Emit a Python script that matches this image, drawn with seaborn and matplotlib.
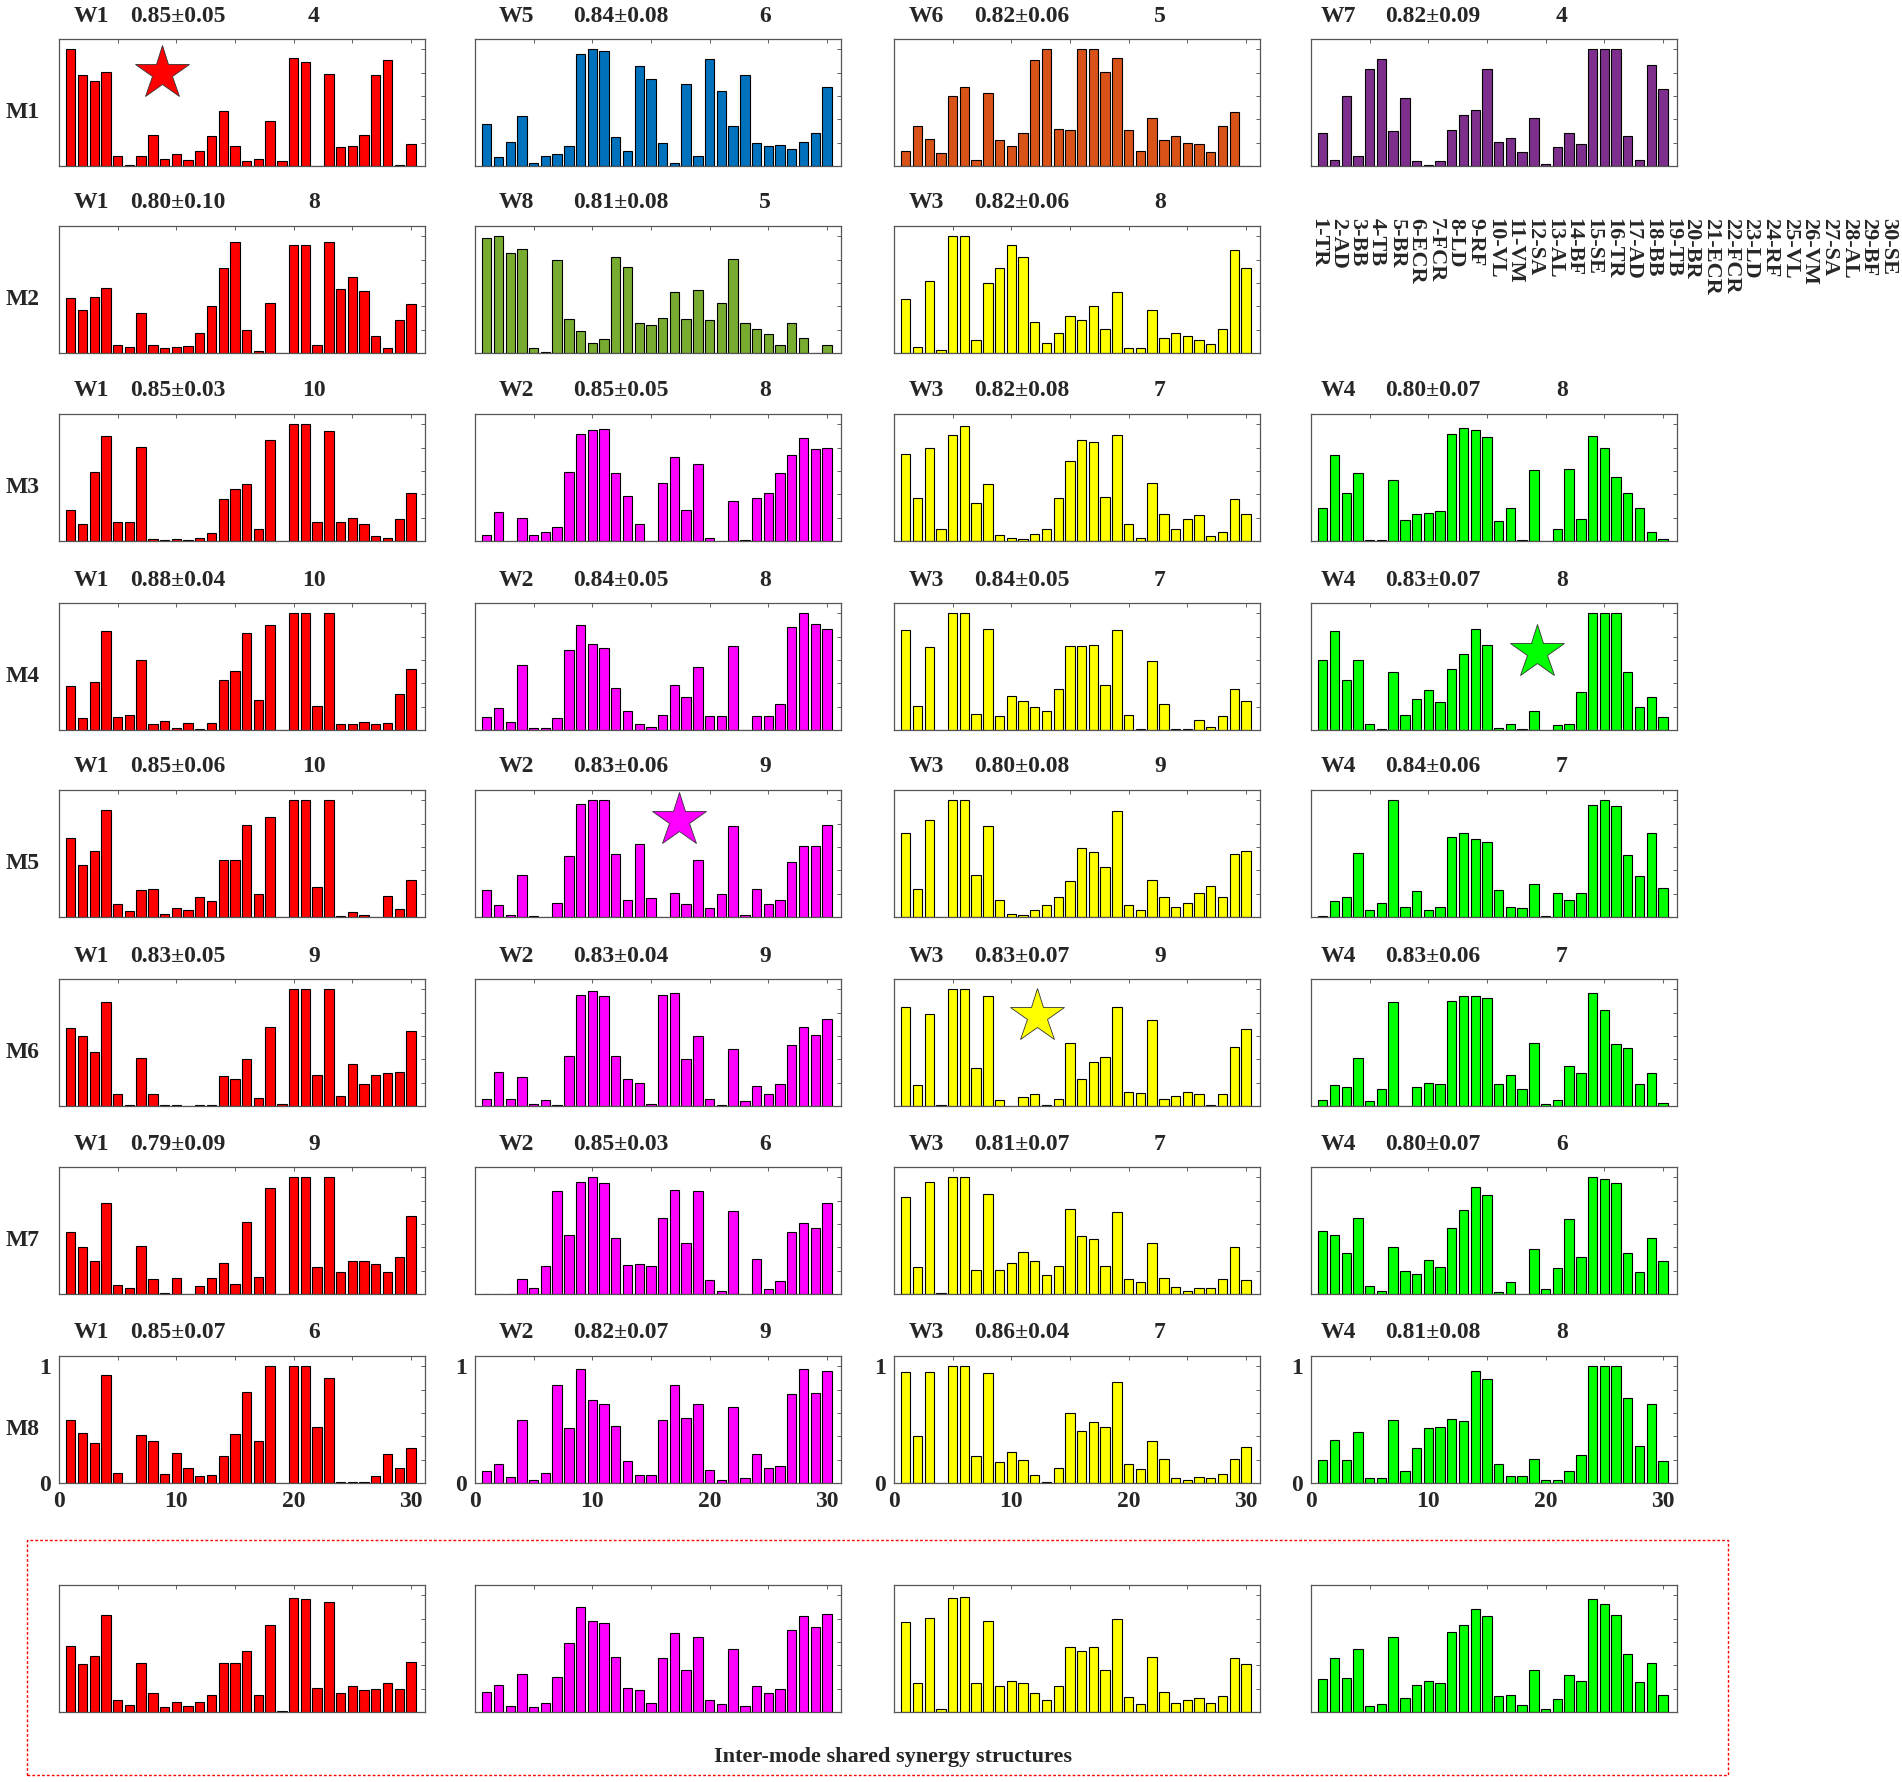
import numpy as np
import pandas as pd
import matplotlib
matplotlib.use("Agg")
import matplotlib.pyplot as plt
import seaborn as sns
from matplotlib.patches import Rectangle

# muscle labels
muscles = ['1-TR', '2-AD', '3-BB', '4-TB', '5-BR', '6-ECR', '7-FCR', '8-LD', '9-RF', '10-VL',
           '11-VM', '12-SA', '13-AL', '14-BF', '15-SE', '16-TR', '17-AD', '18-BB', '19-TB', '20-BR',
           '21-ECR', '22-FCR', '23-LD', '24-RF', '25-VL', '26-VM', '27-SA', '28-AL', '29-BF', '30-SE']
muscle_idx = list(range(1, 31))

# synergy weights, one list per panel
m1_w1 = [1.0, 0.78, 0.73, 0.81, 0.09, 0.01, 0.09, 0.27, 0.06, 0.10, 0.05, 0.13, 0.26, 0.47, 0.17,
         0.04, 0.06, 0.39, 0.04, 0.93, 0.89, 0.0, 0.79, 0.16, 0.17, 0.27, 0.78, 0.91, 0.01, 0.19]
m1_w5 = [0.36, 0.08, 0.21, 0.43, 0.03, 0.09, 0.10, 0.17, 0.96, 1.0, 0.99, 0.25, 0.13, 0.86, 0.75,
         0.20, 0.03, 0.70, 0.09, 0.92, 0.64, 0.34, 0.78, 0.20, 0.17, 0.18, 0.15, 0.21, 0.28, 0.68]
m1_w6 = [0.13, 0.34, 0.23, 0.11, 0.60, 0.68, 0.05, 0.63, 0.22, 0.17, 0.28, 0.91, 1.0, 0.32, 0.31,
         1.0, 1.0, 0.81, 0.93, 0.31, 0.13, 0.41, 0.22, 0.26, 0.20, 0.19, 0.12, 0.34, 0.46, 0.0]
m1_w7 = [0.28, 0.05, 0.60, 0.09, 0.83, 0.92, 0.30, 0.58, 0.04, 0.01, 0.04, 0.31, 0.44, 0.48, 0.83,
         0.21, 0.24, 0.12, 0.41, 0.02, 0.16, 0.28, 0.19, 1.0, 1.0, 1.0, 0.26, 0.05, 0.87, 0.66]

m2_w1 = [0.47, 0.37, 0.48, 0.56, 0.07, 0.05, 0.34, 0.07, 0.04, 0.05, 0.06, 0.17, 0.40, 0.73, 0.95,
         0.20, 0.02, 0.43, 0.0, 0.93, 0.93, 0.07, 0.95, 0.55, 0.65, 0.53, 0.15, 0.04, 0.28, 0.42]
m2_w8 = [0.99, 1.0, 0.86, 0.89, 0.04, 0.01, 0.80, 0.29, 0.19, 0.09, 0.12, 0.82, 0.74, 0.26, 0.24,
         0.30, 0.52, 0.29, 0.54, 0.28, 0.43, 0.81, 0.26, 0.21, 0.16, 0.07, 0.26, 0.13, 0.0, 0.07]
m2_w3 = [0.46, 0.05, 0.62, 0.03, 1.0, 1.0, 0.11, 0.60, 0.73, 0.93, 0.82, 0.27, 0.09, 0.17, 0.32,
         0.28, 0.40, 0.21, 0.52, 0.04, 0.04, 0.37, 0.13, 0.17, 0.15, 0.11, 0.08, 0.21, 0.88, 0.73]

m3_w1 = [0.27, 0.15, 0.59, 0.90, 0.16, 0.16, 0.81, 0.02, 0.01, 0.02, 0.01, 0.03, 0.07, 0.36, 0.45,
         0.49, 0.10, 0.87, 0.0, 1.0, 1.0, 0.16, 0.94, 0.16, 0.20, 0.15, 0.04, 0.03, 0.19, 0.41]
m3_w2 = [0.05, 0.25, 0.0, 0.20, 0.05, 0.08, 0.12, 0.59, 0.92, 0.95, 0.96, 0.58, 0.39, 0.15, 0.0,
         0.50, 0.72, 0.27, 0.66, 0.03, 0.0, 0.34, 0.01, 0.37, 0.41, 0.58, 0.74, 0.88, 0.79, 0.80]
m3_w3 = [0.75, 0.37, 0.80, 0.10, 0.91, 0.99, 0.33, 0.49, 0.05, 0.03, 0.02, 0.06, 0.10, 0.37, 0.69,
         0.87, 0.85, 0.38, 0.91, 0.15, 0.03, 0.50, 0.23, 0.10, 0.19, 0.22, 0.04, 0.08, 0.36, 0.23]
m3_w4 = [0.28, 0.74, 0.41, 0.58, 0.01, 0.01, 0.52, 0.18, 0.23, 0.24, 0.26, 0.92, 0.97, 0.95, 0.89,
         0.17, 0.28, 0.01, 0.61, 0.0, 0.10, 0.62, 0.19, 0.90, 0.80, 0.55, 0.41, 0.28, 0.08, 0.02]

m4_w1 = [0.38, 0.10, 0.41, 0.85, 0.11, 0.13, 0.60, 0.05, 0.08, 0.02, 0.06, 0.01, 0.06, 0.43, 0.51,
         0.83, 0.26, 0.90, 0.0, 1.0, 1.0, 0.21, 1.0, 0.05, 0.05, 0.07, 0.05, 0.06, 0.31, 0.52]
m4_w2 = [0.11, 0.19, 0.07, 0.56, 0.02, 0.02, 0.10, 0.69, 0.90, 0.74, 0.70, 0.36, 0.16, 0.05, 0.03,
         0.13, 0.39, 0.28, 0.54, 0.12, 0.12, 0.72, 0.0, 0.12, 0.12, 0.22, 0.88, 1.0, 0.91, 0.87]
m4_w3 = [0.86, 0.21, 0.71, 0.0, 1.0, 1.0, 0.14, 0.87, 0.12, 0.29, 0.25, 0.20, 0.16, 0.35, 0.72,
         0.72, 0.73, 0.39, 0.86, 0.13, 0.01, 0.59, 0.22, 0.01, 0.01, 0.09, 0.03, 0.12, 0.35, 0.25]
m4_w4 = [0.60, 0.85, 0.43, 0.60, 0.05, 0.01, 0.50, 0.13, 0.27, 0.34, 0.24, 0.52, 0.65, 0.87, 0.73,
         0.02, 0.05, 0.01, 0.16, 0.0, 0.04, 0.05, 0.33, 1.0, 1.0, 1.0, 0.50, 0.20, 0.28, 0.11]

m5_w1 = [0.68, 0.45, 0.57, 0.92, 0.11, 0.05, 0.23, 0.24, 0.03, 0.08, 0.06, 0.17, 0.14, 0.49, 0.49,
         0.79, 0.20, 0.86, 0.0, 1.0, 1.0, 0.26, 1.0, 0.01, 0.04, 0.02, 0.0, 0.18, 0.07, 0.32]
m5_w2 = [0.23, 0.10, 0.02, 0.36, 0.01, 0.0, 0.12, 0.52, 0.97, 1.0, 1.0, 0.54, 0.15, 0.63, 0.16,
         0.0, 0.21, 0.11, 0.49, 0.08, 0.20, 0.78, 0.02, 0.24, 0.11, 0.15, 0.47, 0.61, 0.61, 0.79]
m5_w3 = [0.72, 0.24, 0.83, 0.0, 1.0, 1.0, 0.36, 0.78, 0.15, 0.03, 0.02, 0.06, 0.10, 0.17, 0.31,
         0.59, 0.56, 0.43, 0.91, 0.10, 0.06, 0.32, 0.17, 0.09, 0.12, 0.21, 0.27, 0.17, 0.54, 0.57]
m5_w4 = [0.01, 0.14, 0.17, 0.55, 0.06, 0.12, 1.0, 0.09, 0.22, 0.06, 0.09, 0.69, 0.72, 0.67, 0.64,
         0.23, 0.09, 0.08, 0.28, 0.01, 0.21, 0.15, 0.21, 0.96, 1.0, 0.95, 0.53, 0.35, 0.72, 0.25]

m6_w1 = [0.67, 0.60, 0.46, 0.89, 0.10, 0.01, 0.41, 0.10, 0.01, 0.01, 0.0, 0.01, 0.01, 0.26, 0.23,
         0.40, 0.07, 0.68, 0.02, 1.0, 1.0, 0.27, 1.0, 0.09, 0.36, 0.19, 0.27, 0.28, 0.29, 0.64]
m6_w2 = [0.06, 0.29, 0.06, 0.25, 0.02, 0.05, 0.01, 0.43, 0.95, 0.99, 0.94, 0.43, 0.23, 0.20, 0.02,
         0.95, 0.97, 0.40, 0.60, 0.06, 0.01, 0.49, 0.04, 0.17, 0.10, 0.19, 0.52, 0.68, 0.61, 0.75]
m6_w3 = [0.85, 0.18, 0.79, 0.01, 1.0, 1.0, 0.33, 0.94, 0.05, 0.0, 0.08, 0.10, 0.01, 0.06, 0.54,
         0.23, 0.38, 0.42, 0.85, 0.12, 0.11, 0.74, 0.06, 0.09, 0.12, 0.10, 0.01, 0.10, 0.51, 0.66]
m6_w4 = [0.05, 0.18, 0.16, 0.41, 0.04, 0.15, 0.89, 0.0, 0.16, 0.20, 0.19, 0.90, 0.94, 0.94, 0.93,
         0.19, 0.27, 0.15, 0.54, 0.02, 0.05, 0.34, 0.28, 0.97, 0.82, 0.53, 0.50, 0.19, 0.28, 0.03]

m7_w1 = [0.53, 0.40, 0.28, 0.78, 0.08, 0.05, 0.41, 0.13, 0.01, 0.14, 0.0, 0.07, 0.14, 0.27, 0.09,
         0.62, 0.15, 0.91, 0.0, 1.0, 1.0, 0.23, 1.0, 0.19, 0.28, 0.28, 0.26, 0.19, 0.32, 0.67]
m7_w2 = [0.0, 0.0, 0.0, 0.13, 0.05, 0.24, 0.88, 0.51, 0.96, 1.0, 0.95, 0.48, 0.25, 0.26, 0.24,
         0.65, 0.89, 0.44, 0.88, 0.12, 0.03, 0.71, 0.0, 0.30, 0.04, 0.11, 0.53, 0.61, 0.57, 0.78]
m7_w3 = [0.83, 0.23, 0.96, 0.01, 1.0, 1.0, 0.21, 0.86, 0.21, 0.27, 0.36, 0.28, 0.16, 0.24, 0.73,
         0.50, 0.47, 0.24, 0.70, 0.13, 0.10, 0.44, 0.14, 0.06, 0.03, 0.05, 0.05, 0.13, 0.40, 0.12]
m7_w4 = [0.54, 0.51, 0.35, 0.65, 0.07, 0.03, 0.40, 0.20, 0.17, 0.29, 0.23, 0.57, 0.72, 0.92, 0.85,
         0.02, 0.10, 0.0, 0.39, 0.04, 0.22, 0.64, 0.32, 1.0, 0.99, 0.95, 0.35, 0.19, 0.48, 0.28]

m8_w1 = [0.54, 0.43, 0.34, 0.93, 0.09, 0.0, 0.41, 0.36, 0.08, 0.26, 0.13, 0.06, 0.07, 0.23, 0.42,
         0.78, 0.36, 1.0, 0.0, 1.0, 1.0, 0.48, 0.90, 0.01, 0.01, 0.01, 0.06, 0.25, 0.13, 0.30]
m8_w2 = [0.10, 0.16, 0.05, 0.54, 0.03, 0.09, 0.84, 0.47, 0.98, 0.71, 0.68, 0.49, 0.19, 0.07, 0.07,
         0.54, 0.84, 0.56, 0.68, 0.11, 0.03, 0.65, 0.04, 0.25, 0.13, 0.15, 0.76, 0.98, 0.77, 0.96]
m8_w3 = [0.95, 0.40, 0.95, 0.0, 1.0, 1.0, 0.23, 0.94, 0.18, 0.27, 0.20, 0.07, 0.01, 0.13, 0.60,
         0.45, 0.52, 0.48, 0.87, 0.16, 0.12, 0.36, 0.21, 0.04, 0.03, 0.05, 0.04, 0.08, 0.21, 0.31]
m8_w4 = [0.20, 0.37, 0.20, 0.44, 0.04, 0.04, 0.54, 0.10, 0.30, 0.47, 0.48, 0.55, 0.53, 0.96, 0.89,
         0.16, 0.06, 0.06, 0.21, 0.03, 0.03, 0.10, 0.24, 1.0, 1.0, 1.0, 0.73, 0.32, 0.68, 0.19]

shared_w1 = [0.57, 0.41, 0.48, 0.83, 0.10, 0.06, 0.42, 0.16, 0.04, 0.09, 0.05, 0.09, 0.15, 0.42, 0.42,
             0.52, 0.15, 0.75, 0.01, 0.98, 0.97, 0.21, 0.94, 0.16, 0.22, 0.19, 0.20, 0.25, 0.20, 0.43]
shared_w2 = [0.17, 0.23, 0.05, 0.33, 0.04, 0.08, 0.30, 0.59, 0.90, 0.78, 0.76, 0.47, 0.21, 0.19, 0.08,
             0.46, 0.68, 0.36, 0.64, 0.10, 0.07, 0.54, 0.05, 0.22, 0.16, 0.20, 0.70, 0.82, 0.73, 0.84]
shared_w3 = [0.77, 0.25, 0.81, 0.03, 0.98, 0.99, 0.25, 0.78, 0.22, 0.27, 0.25, 0.16, 0.10, 0.22, 0.56,
             0.52, 0.56, 0.36, 0.80, 0.13, 0.07, 0.47, 0.17, 0.08, 0.10, 0.12, 0.08, 0.14, 0.46, 0.41]
shared_w4 = [0.28, 0.46, 0.29, 0.54, 0.05, 0.07, 0.64, 0.12, 0.23, 0.27, 0.25, 0.69, 0.75, 0.88, 0.82,
             0.14, 0.15, 0.06, 0.36, 0.03, 0.11, 0.32, 0.27, 0.97, 0.93, 0.83, 0.50, 0.26, 0.42, 0.15]

# panel titles: synergy name, VAF, count
row_names = ['M1', 'M2', 'M3', 'M4', 'M5', 'M6', 'M7', 'M8']
syn_names = [['W1', 'W5', 'W6', 'W7'], ['W1', 'W8', 'W3'], ['W1', 'W2', 'W3', 'W4'],
             ['W1', 'W2', 'W3', 'W4'], ['W1', 'W2', 'W3', 'W4'], ['W1', 'W2', 'W3', 'W4'],
             ['W1', 'W2', 'W3', 'W4'], ['W1', 'W2', 'W3', 'W4']]
vaf_text = [['0.85±0.05', '0.84±0.08', '0.82±0.06', '0.82±0.09'],
            ['0.80±0.10', '0.81±0.08', '0.82±0.06'],
            ['0.85±0.03', '0.85±0.05', '0.82±0.08', '0.80±0.07'],
            ['0.88±0.04', '0.84±0.05', '0.84±0.05', '0.83±0.07'],
            ['0.85±0.06', '0.83±0.06', '0.80±0.08', '0.84±0.06'],
            ['0.83±0.05', '0.83±0.04', '0.83±0.07', '0.83±0.06'],
            ['0.79±0.09', '0.85±0.03', '0.81±0.07', '0.80±0.07'],
            ['0.85±0.07', '0.82±0.07', '0.86±0.04', '0.81±0.08']]
counts = [['4', '6', '5', '4'], ['8', '5', '8'], ['10', '8', '7', '8'], ['10', '8', '7', '8'],
          ['10', '9', '9', '7'], ['9', '9', '9', '7'], ['9', '6', '7', '6'], ['6', '9', '7', '8']]

red, mag, yel, grn = '#FF0000', '#FF00FF', '#FFFF00', '#00FF00'
rows = [[(m1_w1, red), (m1_w5, '#0072BD'), (m1_w6, '#D95319'), (m1_w7, '#7E2F8E')],
        [(m2_w1, red), (m2_w8, '#77AC30'), (m2_w3, yel)],
        [(m3_w1, red), (m3_w2, mag), (m3_w3, yel), (m3_w4, grn)],
        [(m4_w1, red), (m4_w2, mag), (m4_w3, yel), (m4_w4, grn)],
        [(m5_w1, red), (m5_w2, mag), (m5_w3, yel), (m5_w4, grn)],
        [(m6_w1, red), (m6_w2, mag), (m6_w3, yel), (m6_w4, grn)],
        [(m7_w1, red), (m7_w2, mag), (m7_w3, yel), (m7_w4, grn)],
        [(m8_w1, red), (m8_w2, mag), (m8_w3, yel), (m8_w4, grn)]]
shared = [(shared_w1, red), (shared_w2, mag), (shared_w3, yel), (shared_w4, grn)]

# stars: row, col, x, y, colour
stars = [(0, 0, 8.8, 0.80, red), (3, 3, 19.3, 0.67, grn), (4, 1, 17.4, 0.83, mag), (5, 2, 12.2, 0.77, yel)]

sns.set_style("white")
plt.rcParams['font.family'] = ['Liberation Serif', 'DejaVu Serif']
plt.rcParams['font.weight'] = 'bold'

W, H = 1902, 1782
fig = plt.figure(figsize=(W / 100, H / 100), dpi=100)

col_left = [59, 475, 894, 1311]
box_w, box_h = 366, 127
row_top = [39, 226, 414, 603, 790, 979, 1167, 1356]
shared_top = 1585
w_x = [74, 499, 909, 1321]
v_x = [130, 573, 974, 1385]
n_x = [314, 765, 1160, 1562]
FS = 17


def panel(left, top, vals, colour, labels=False):
    ax = fig.add_axes([left / W, 1 - (top + box_h) / H, box_w / W, box_h / H])
    df = pd.DataFrame({'muscle': muscle_idx, 'weight': vals})
    sns.barplot(data=df, x='muscle', y='weight', color=colour, native_scale=True, width=0.8,
                saturation=1, edgecolor='black', linewidth=0.8, errorbar=None, ax=ax)
    ax.set_xlim(0, 31.2)
    ax.set_ylim(0, 1.09)
    ax.set_xlabel('')
    ax.set_ylabel('')
    ax.set_xticks(range(0, 31, 5))
    ax.set_yticks(np.arange(0, 1.01, 0.2))
    ax.tick_params(direction='in', top=True, right=True, length=3, width=0.6,
                   color='#444444', labelsize=FS, pad=6)
    if labels:
        ax.set_xticklabels(['0', '', '10', '', '20', '', '30'])
        ax.set_yticklabels(['0', '', '', '', '', '1'])
    else:
        ax.set_xticklabels([])
        ax.set_yticklabels([])
    for s in ax.spines.values():
        s.set_color('#555555')
        s.set_linewidth(0.9)
    return ax


axes = {}
for r, row in enumerate(rows):
    top = row_top[r]
    for c, (vals, colour) in enumerate(row):
        axes[(r, c)] = panel(col_left[c], top, vals, colour, labels=(r == 7))
        ty = 1 - (top - 23) / H
        fig.text(w_x[c] / W, ty, syn_names[r][c], fontsize=FS, fontweight='bold', ha='left', va='center')
        fig.text(v_x[c] / W, ty, vaf_text[r][c], fontsize=FS, fontweight='bold', ha='left', va='center')
        fig.text(n_x[c] / W, ty, counts[r][c], fontsize=FS, fontweight='bold', ha='center', va='center')
    fig.text(6 / W, 1 - (top + box_h / 2 + 10) / H, row_names[r], fontsize=FS, fontweight='bold',
             ha='left', va='center')

for c, (vals, colour) in enumerate(shared):
    panel(col_left[c], shared_top, vals, colour)

for r, c, sx, sy, colour in stars:
    axes[(r, c)].plot(sx, sy, marker='*', ms=41, color=colour, mec='#333333', mew=0.6)

# muscle name list in the empty slot of row M2
for i, name in enumerate(muscles):
    fig.text((1318 + 19.66 * i) / W, 1 - 218 / H, name, rotation=-90, fontsize=16,
             fontweight='bold', ha='center', va='top')

fig.patches.append(Rectangle((27 / W, 1 - 1775 / H), (1728 - 27) / W, (1775 - 1540) / H,
                             transform=fig.transFigure, fill=False, edgecolor='red',
                             linestyle=(0, (2, 1.5)), linewidth=1.0))
fig.text(893 / W, 1 - 1757 / H, 'Inter-mode shared synergy structures', fontsize=16,
         fontweight='bold', ha='center', va='center')

fig.savefig('out.png', dpi=100)
